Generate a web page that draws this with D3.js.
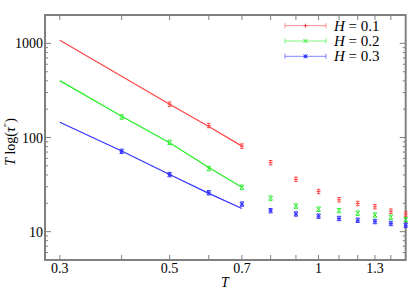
<!DOCTYPE html>
<html>
<head>
<meta charset="utf-8">
<script src="https://cdn.jsdelivr.net/npm/d3@7"></script>
<style>
  body { margin: 0; background: #fff; }
  text { font-family: 'Liberation Serif', 'DejaVu Serif', serif; }
</style>
</head>
<body>
<script>
// temperatures of the simulated points
const temps = [0.4, 0.5, 0.6, 0.7, 0.8, 0.9, 1.0, 1.1, 1.2, 1.3, 1.4, 1.5]
const h1Values = [null, 226, 134, 81, 54, 36, 26.7, 21.8, 19.9, 18.4, 16.5, 15.4]
const h2Values = [165, 88.7, 46.8, 29.6, 22.7, 18.7, 17.3, 16.7, 15.7, 15.0, 14.2, 13.4]
const h3Values = [71.3, 40.4, 25.9, 19.6, 16.7, 15.4, 14.6, 13.8, 13.2, 12.8, 12.2, 11.7]

// fitted lines, low temperature part
const fitTemps = [0.3, 0.4, 0.5, 0.6, 0.7]
const h1Fit = [1080, 448, 226, 131, 81]
const h2Fit = [402, 168, 88, 48, 29.6]
const h3Fit = [145, 72, 40.5, 25.5, 17.6]

const seriesNames = ['H = 0.1', 'H = 0.2', 'H = 0.3']
const xTickLabels = [0.3, 0.5, 0.7, 1, 1.3]
const yTickLabels = [10, 100, 1000]

const series = [
  { name: seriesNames[0], values: h1Values, fit: h1Fit, color: '#ff4444', symbol: 'plus' },
  { name: seriesNames[1], values: h2Values, fit: h2Fit, color: '#22ee22', symbol: 'cross' },
  { name: seriesNames[2], values: h3Values, fit: h3Fit, color: '#3333ff', symbol: 'star' }
]

const outerWidth = 415
const outerHeight = 291
const margin = { top: 15, bottom: 31, left: 45, right: 9.3 }

const svg = d3.select('body')
  .append('svg')
  .attr('width', outerWidth)
  .attr('height', outerHeight)

const xScale = d3.scaleLog()
  .domain([0.28, 1.5])
  .range([margin.left, outerWidth - margin.right])

const yScale = d3.scaleLog()
  .domain([5, 2000])
  .range([outerHeight - margin.bottom, margin.top])

const axisColor = '#808080'
const x0 = margin.left
const x1 = outerWidth - margin.right
const y0 = outerHeight - margin.bottom
const y1 = margin.top

// minor / major ticks
const xTicks = d3.range(3, 15).map(d => d / 10)
const yTicks = []
for (let dec = 1; dec <= 1000; dec *= 10) {
  for (let k = 1; k <= 9; k++) {
    const v = dec * k
    if (v >= 5 && v <= 2000) yTicks.push(v)
  }
}

const ticksG = svg.append('g').attr('stroke', axisColor).attr('stroke-width', 1)
xTicks.forEach(t => {
  const len = 5
  ticksG.append('line').attr('x1', xScale(t)).attr('x2', xScale(t)).attr('y1', y0).attr('y2', y0 - len)
  ticksG.append('line').attr('x1', xScale(t)).attr('x2', xScale(t)).attr('y1', y1).attr('y2', y1 + len)
})
yTicks.forEach(t => {
  const len = yTickLabels.includes(t) ? 6 : 3
  ticksG.append('line').attr('x1', x0).attr('x2', x0 + len).attr('y1', yScale(t)).attr('y2', yScale(t))
  ticksG.append('line').attr('x1', x1).attr('x2', x1 - len).attr('y1', yScale(t)).attr('y2', yScale(t))
})

// frame
svg.append('rect')
  .attr('x', x0)
  .attr('y', y1)
  .attr('width', x1 - x0)
  .attr('height', y0 - y1)
  .attr('fill', 'none')
  .attr('stroke', axisColor)
  .attr('stroke-width', 2)

// tick labels
svg.append('g')
  .selectAll('text')
  .data(xTickLabels)
  .enter()
  .append('text')
  .attr('x', d => xScale(d))
  .attr('y', y0 + 13)
  .attr('text-anchor', 'middle')
  .attr('font-size', 14)
  .text(d => d)

svg.append('g')
  .selectAll('text')
  .data(yTickLabels)
  .enter()
  .append('text')
  .attr('x', x0 - 2)
  .attr('y', d => yScale(d) + 5)
  .attr('text-anchor', 'end')
  .attr('font-size', 14)
  .text(d => d)

// axis titles
svg.append('text')
  .attr('x', 225)
  .attr('y', 287)
  .attr('text-anchor', 'middle')
  .attr('font-size', 14)
  .attr('font-style', 'italic')
  .text('T')

const yLabel = svg.append('text')
  .attr('transform', 'translate(15,142) rotate(-90)')
  .attr('text-anchor', 'middle')
  .attr('font-size', 14)
yLabel.append('tspan').attr('font-style', 'italic').text('T')
yLabel.append('tspan').text(' log(')
yLabel.append('tspan').attr('font-style', 'italic').text('τ')
yLabel.append('tspan').attr('font-size', 10).attr('dy', -4).text('″')
yLabel.append('tspan').attr('dy', 4).text(')')

// marker drawing
function marker(g, cx, cy, symbol, color, withCaps) {
  const s = 2
  const m = g.append('g').attr('stroke', color).attr('stroke-width', 1).attr('fill', 'none')
  if (symbol === 'plus' || symbol === 'star') {
    m.append('line').attr('x1', cx - s).attr('x2', cx + s).attr('y1', cy).attr('y2', cy)
    m.append('line').attr('x1', cx).attr('x2', cx).attr('y1', cy - s).attr('y2', cy + s)
  }
  if (symbol === 'cross' || symbol === 'star') {
    m.append('line').attr('x1', cx - s).attr('x2', cx + s).attr('y1', cy - s).attr('y2', cy + s)
    m.append('line').attr('x1', cx - s).attr('x2', cx + s).attr('y1', cy + s).attr('y2', cy - s)
  }
  if (withCaps) {
    m.append('line').attr('x1', cx - 1.8).attr('x2', cx + 1.8).attr('y1', cy - 2.2).attr('y2', cy - 2.2)
    m.append('line').attr('x1', cx - 1.8).attr('x2', cx + 1.8).attr('y1', cy + 2.2).attr('y2', cy + 2.2)
  }
}

const line = d3.line()
  .x((d, i) => xScale(fitTemps[i]))
  .y(d => yScale(d))

series.forEach(s => {
  svg.append('path')
    .attr('d', line(s.fit))
    .attr('fill', 'none')
    .attr('stroke', s.color)
    .attr('stroke-width', 1.2)

  const g = svg.append('g')
  s.values.forEach((v, i) => {
    if (v === null) return
    marker(g, xScale(temps[i]), yScale(v), s.symbol, s.color, true)
  })
})

// legend
const legend = svg.append('g')
series.forEach((s, i) => {
  const ly = 25.7 + i * 15.3
  const lx0 = 285
  const lx1 = 326
  const g = legend.append('g').attr('stroke', s.color).attr('stroke-opacity', 0.6).attr('stroke-width', 1)
  g.append('line').attr('x1', lx0).attr('x2', lx1).attr('y1', ly).attr('y2', ly)
  g.append('line').attr('x1', lx0).attr('x2', lx0).attr('y1', ly - 2.5).attr('y2', ly + 2.5)
  g.append('line').attr('x1', lx1).attr('x2', lx1).attr('y1', ly - 2.5).attr('y2', ly + 2.5)
  marker(legend, (lx0 + lx1) / 2, ly, s.symbol, s.color, false)

  const t = legend.append('text')
    .attr('x', 334)
    .attr('y', ly + 5)
    .attr('font-size', 15)
  t.append('tspan').attr('font-style', 'italic').text('H')
  t.append('tspan').text(' = ' + s.name.split('= ')[1])
})
</script>
</body>
</html>
